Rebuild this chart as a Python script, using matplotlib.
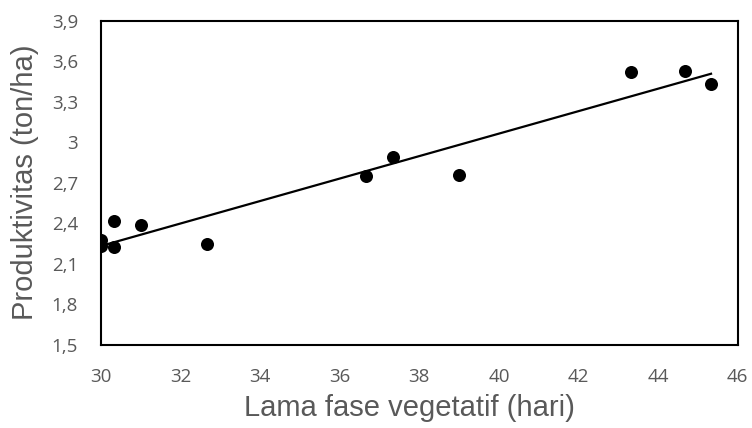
import numpy as np
import matplotlib
matplotlib.use("Agg")
import matplotlib.pyplot as plt

# Data
lama_vegetatif = [30.0, 30.0, 30.33, 30.33, 31.0, 32.67, 36.67, 37.33, 39.0, 43.33, 44.67, 45.33]
produktivitas = [2.28, 2.234, 2.415, 2.227, 2.387, 2.247, 2.75, 2.888, 2.755, 3.517, 3.529, 3.433]

x_ticks = [30, 32, 34, 36, 38, 40, 42, 44, 46]
y_ticks = [1.5, 1.8, 2.1, 2.4, 2.7, 3.0, 3.3, 3.6, 3.9]

x_label = "Lama fase vegetatif (hari)"
y_label = "Produktivitas (ton/ha)"

gray = "#595959"

fig = plt.figure(figsize=(7.52, 4.28), dpi=100)
ax = fig.add_axes([101 / 752, 1 - 345 / 428, (737.7 - 101) / 752, (345 - 20.5) / 428])

x = np.array(lama_vegetatif)
y = np.array(produktivitas)
ax.scatter(x, y, s=88, color="black", zorder=3, linewidths=0)

coef = np.polyfit(x, y, 1)
xl = np.array([x.min(), x.max()])
ax.plot(xl, np.polyval(coef, xl), color="black", lw=1.6, zorder=2)

ax.set_xlim(30, 46)
ax.set_ylim(1.5, 3.9)
ax.set_xticks(x_ticks)
ax.set_yticks(y_ticks)
ax.set_xticklabels([str(t) for t in x_ticks])
ax.set_yticklabels([("%g" % round(t, 1)).replace(".", ",") for t in y_ticks])

for sp in ax.spines.values():
    sp.set_linewidth(1.5)
    sp.set_color("black")

ax.tick_params(length=0, pad=16.5, labelsize=13.5, labelcolor=gray)
for lab in ax.get_xticklabels() + ax.get_yticklabels():
    lab.set_fontfamily("Open Sans")

fig.text(409 / 752, 1 - 408 / 428, x_label, ha="center", va="center",
         fontsize=21, color=gray, family="Liberation Sans")
fig.text(25 / 752, 1 - 182 / 428, y_label, ha="center", va="center",
         rotation=90, fontsize=21, color=gray, family="Liberation Sans")

fig.savefig("out.png", dpi=100)
